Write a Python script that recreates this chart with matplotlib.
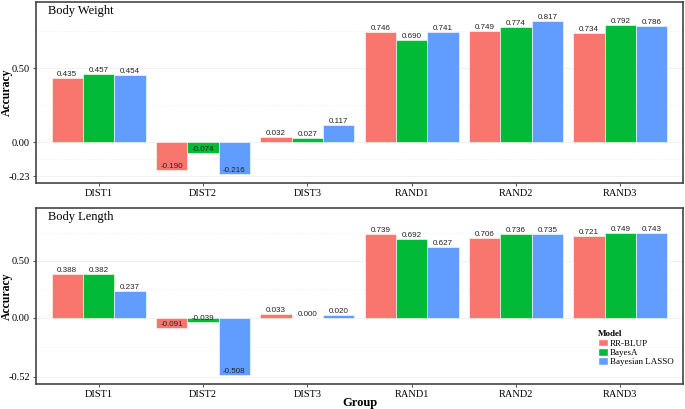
import matplotlib.pyplot as plt
from matplotlib.patches import Patch
import numpy as np

# data
groups = ["DIST1", "DIST2", "DIST3", "RAND1", "RAND2", "RAND3"]
models = ["RR-BLUP", "BayesA", "Bayesian LASSO"]
colors = ["#F8766D", "#00BA38", "#619CFF"]

weight_rrblup = [0.435, -0.190, 0.032, 0.746, 0.749, 0.734]
weight_bayesa = [0.457, -0.074, 0.027, 0.690, 0.774, 0.792]
weight_lasso = [0.454, -0.216, 0.117, 0.741, 0.817, 0.786]

length_rrblup = [0.388, -0.091, 0.033, 0.739, 0.706, 0.721]
length_bayesa = [0.382, -0.039, 0.000, 0.692, 0.736, 0.749]
length_lasso = [0.237, -0.508, 0.020, 0.627, 0.735, 0.743]

weight_ticks = [-0.23, 0.00, 0.50]
length_ticks = [-0.52, 0.00, 0.50]

serif = "Liberation Serif"
sans = "Liberation Sans"

W, H = 685, 409
fig = plt.figure(figsize=(W / 100, H / 100), dpi=100)


def panel(top, bottom, title, series, ticks, ylim, legend=False):
    ax = fig.add_axes([36 / W, (H - bottom) / H, 647 / W, (bottom - top) / H])
    x = np.arange(1, len(groups) + 1)
    bw = 0.3
    for i, vals in enumerate(series):
        xs = x + (i - 1) * bw
        ax.bar(xs, vals, width=bw, color=colors[i], edgecolor="#ffffff", linewidth=0.4, zorder=3)
        for xx, v in zip(xs, vals):
            ax.text(xx, v, f"{v:.3f}", ha="center", va="bottom", fontsize=5.8,
                    family=sans, color="#222222", zorder=4)
    ax.set_xlim(0.4, 6.6)
    ax.set_ylim(*ylim)
    ax.set_xticks(x)
    ax.set_xticklabels(groups, family=serif, fontsize=7.5)
    ax.set_yticks(ticks)
    ax.set_yticklabels([f"{t:.2f}" for t in ticks], family=serif, fontsize=7.5)
    minor = [ticks[0] / 2, 0.25, 0.75]
    ax.set_yticks(minor, minor=True)
    ax.tick_params(axis="y", which="minor", length=0)
    ax.tick_params(which="major", length=2.5, width=0.6, color="#333333", pad=2)
    ax.grid(axis="y", which="major", color="#ebebeb", linewidth=0.5, zorder=0)
    ax.grid(axis="y", which="minor", color="#ebebeb", linewidth=0.5, linestyle=":", zorder=0)
    for s in ax.spines.values():
        s.set_color("#444444")
        s.set_linewidth(1.2)
    ax.text(12 / 647, 0.985, title, transform=ax.transAxes, ha="left", va="top",
            family=serif, fontsize=9)
    ax.set_ylabel("Accuracy", family=serif, fontsize=8.5, fontweight="bold")
    ax.yaxis.set_label_coords(-23 / 647, 0.5)
    if legend:
        handles = [Patch(facecolor=c, edgecolor="white") for c in colors]
        leg = ax.legend(handles, models, title="Model", loc="upper left",
                        bbox_to_anchor=(0.868, 0.305), frameon=False,
                        prop={"family": serif, "size": 6.5}, handlelength=1.1,
                        handleheight=0.9, handletextpad=0.3, labelspacing=0.05,
                        borderpad=0, borderaxespad=0)
        leg.get_title().set_fontfamily(serif)
        leg.get_title().set_fontweight("bold")
        leg.get_title().set_fontsize(6.5)
        leg._legend_box.align = "left"
    return ax


panel(2, 183, "Body Weight", [weight_rrblup, weight_bayesa, weight_lasso],
      weight_ticks, (-0.277, 0.946))
ax2 = panel(208, 384, "Body Length", [length_rrblup, length_bayesa, length_lasso],
            length_ticks, (-0.586, 0.967), legend=True)

fig.text(360 / W, 1 - 403 / H, "Group", ha="center", va="center", family=serif,
         fontsize=9, fontweight="bold")

fig.savefig("out.png", dpi=100)
